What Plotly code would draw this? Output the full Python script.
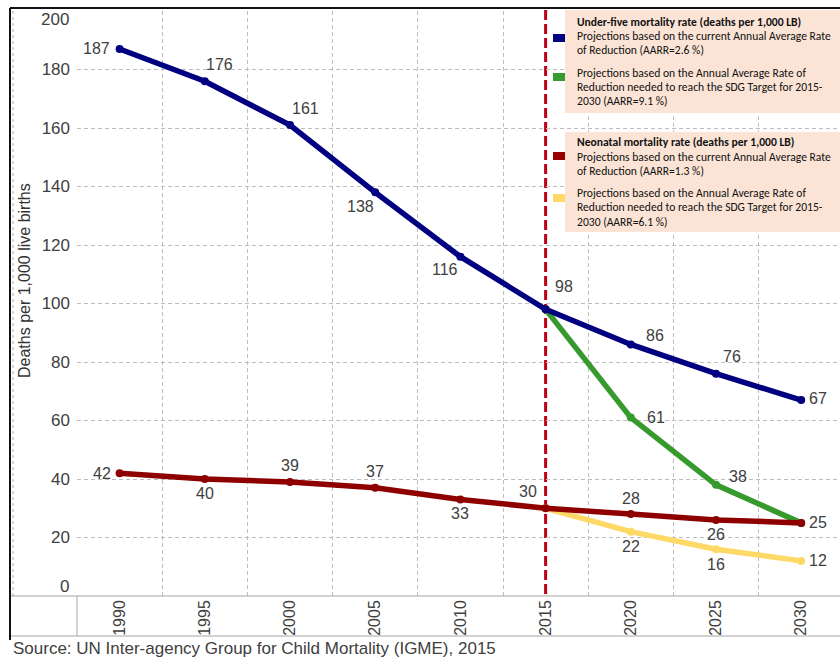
import plotly.graph_objects as go

# ---- data -------------------------------------------------------------
years = ["1990", "1995", "2000", "2005", "2010", "2015", "2020", "2025", "2030"]
proj_years = ["2015", "2020", "2025", "2030"]

under5_current = [187, 176, 161, 138, 116, 98, 86, 76, 67]
under5_sdg = [98, 61, 38, 25]
neonatal_current = [42, 40, 39, 37, 33, 30, 28, 26, 25]
neonatal_sdg = [30, 22, 16, 12]

y_ticks = [0, 20, 40, 60, 80, 100, 120, 140, 160, 180, 200]

legend_under5_title = "Under-five mortality rate (deaths per 1,000 LB)"
legend_under5_current = ["Projections based on the current Annual Average Rate",
                         "of Reduction (AARR=2.6 %)"]
legend_under5_sdg = ["Projections based on the Annual Average Rate of",
                     "Reduction needed to reach the SDG Target for 2015-",
                     "2030 (AARR=9.1 %)"]
legend_neo_title = "Neonatal mortality rate (deaths per 1,000 LB)"
legend_neo_current = ["Projections based on the current Annual Average Rate",
                      "of Reduction (AARR=1.3 %)"]
legend_neo_sdg = ["Projections based on the Annual Average Rate of",
                  "Reduction needed to reach the SDG Target for 2015-",
                  "2030 (AARR=6.1 %)"]

y_title = "Deaths per 1,000 live births"
source_text = "Source: UN Inter-agency Group for Child Mortality (IGME), 2015"

# ---- styling ----------------------------------------------------------
NAVY = "#000080"
GREEN = "#379a2c"
DARKRED = "#8e0000"
GOLD = "#ffd966"
PEACH = "#fbe4d6"
TXT = "#404040"
GRID = "#bdbdbd"
AXIS = "#a6a6a6"
FONT = "Liberation Sans, Arial, sans-serif"
LEG_FONT = "Carlito, Liberation Sans Narrow, Lato, sans-serif"

W_FIG, H_FIG = 840, 659
L, R, T, B = 77, 840, 11, 596          # plot area in pixels
PW, PH = R - L, B - T
BAND = 85.2                              # pixel width of one category


def px(x):
    return (x - L) / PW


def py(y):
    return (B - y) / PH


def cat(year):
    # annotations and shapes on a category axis take the category index
    return years.index(year)


fig = go.Figure()


def add_series(xs, ys, color):
    fig.add_trace(go.Scatter(
        x=xs, y=ys, mode="lines+markers",
        line=dict(color=color, width=5.5),
        marker=dict(color=color, size=8),
        hoverinfo="x+y", showlegend=False,
    ))


add_series(proj_years, under5_sdg, GREEN)
add_series(proj_years, neonatal_sdg, GOLD)
add_series(years, under5_current, NAVY)
add_series(years, neonatal_current, DARKRED)

# value labels: (dx, dy) screen offsets of each label from its point
under5_offsets = [(-23, -1), (15, -17), (15, -17), (-15, 14), (-15, 13),
                  (18, -23), (24, -9), (16, -17), (17, -2)]
under5_sdg_offsets = [None, (25, 0), (22, -8), None]
neo_offsets = [(-18, 0), (0, 14), (0, -16), (0, -16), (0, 14),
               (-18, -17), (0, -16), (0, 15), (17, 0)]
neo_sdg_offsets = [None, (0, 15), (0, 15), (17, 0)]

annotations = []


def label_series(xs, ys, offsets):
    for x, y, off in zip(xs, ys, offsets):
        if off is None:
            continue
        annotations.append(dict(
            x=cat(x), y=y, xref="x", yref="y", text=str(y), showarrow=False,
            xanchor="center", yanchor="middle",
            xshift=off[0], yshift=-off[1],
            font=dict(family=FONT, size=16, color=TXT),
        ))


label_series(years, under5_current, under5_offsets)
label_series(proj_years, under5_sdg, under5_sdg_offsets)
label_series(years, neonatal_current, neo_offsets)
label_series(proj_years, neonatal_sdg, neo_sdg_offsets)

# end tick labels sit just inside the plot edges
for val, shift in [(y_ticks[0], 10), (y_ticks[-1], -8)]:
    annotations.append(dict(
        x=0, y=val, xref="paper", yref="y", text=str(val), showarrow=False,
        xanchor="right", yanchor="middle", xshift=-6, yshift=shift,
        font=dict(family=FONT, size=17, color=TXT),
    ))

# y axis title
annotations.append(dict(
    x=px(24), y=py(281), xref="paper", yref="paper", text=y_title,
    textangle=-90, showarrow=False, xanchor="center", yanchor="middle",
    font=dict(family=FONT, size=16, color="#333333"),
))

# source note
annotations.append(dict(
    x=px(11), y=py(648), xref="paper", yref="paper", text=source_text,
    showarrow=False, xanchor="left", yanchor="middle",
    font=dict(family=FONT, size=17, color=TXT),
))

# legend text blocks
TX = 575


def legend_lines(lines, ys, bold=False):
    for line, yy in zip(lines, ys):
        annotations.append(dict(
            x=px(TX), y=py(yy), xref="paper", yref="paper",
            text=f"<b>{line}</b>" if bold else line,
            showarrow=False, xanchor="left", yanchor="middle",
            font=dict(family=LEG_FONT, size=11.6, color="#111111"),
        ))


legend_lines([legend_under5_title], [22], bold=True)
legend_lines(legend_under5_current, [36, 50])
legend_lines(legend_under5_sdg, [73, 87, 101])
legend_lines([legend_neo_title], [142], bold=True)
legend_lines(legend_neo_current, [157, 171])
legend_lines(legend_neo_sdg, [193, 207, 222])

shapes = []

# legend panels
for y0, y1 in [(10, 113), (132, 232)]:
    shapes.append(dict(type="rect", xref="paper", yref="paper",
                       x0=px(565), x1=px(845), y0=py(y1), y1=py(y0),
                       fillcolor=PEACH, line=dict(width=0), layer="above"))

# legend swatches
for color, yc in [(NAVY, 38), (GREEN, 77), ("#990000", 156), (GOLD, 198)]:
    shapes.append(dict(type="rect", xref="paper", yref="paper",
                       x0=px(553), x1=px(565), y0=py(yc + 4), y1=py(yc - 4),
                       fillcolor=color, line=dict(width=0), layer="above"))

# 2015 divider
shapes.append(dict(type="line", xref="x", yref="paper",
                   x0=cat("2015"), x1=cat("2015"),
                   y0=py(594), y1=py(8),
                   line=dict(color="#c00018", width=3, dash="10px,4px"),
                   layer="below"))

# axis frame around the tick-label strip
shapes.append(dict(type="line", xref="paper", yref="paper",
                   x0=px(10), x1=1, y0=0, y1=0,
                   line=dict(color=AXIS, width=1)))
shapes.append(dict(type="line", xref="paper", yref="paper",
                   x0=px(10), x1=1, y0=py(636), y1=py(636),
                   line=dict(color=AXIS, width=1)))
shapes.append(dict(type="line", xref="paper", yref="paper",
                   x0=0, x1=0, y0=py(636), y1=0,
                   line=dict(color=AXIS, width=1)))
shapes.append(dict(type="line", xref="paper", yref="paper",
                   x0=px(13), x1=px(13), y0=0, y1=py(9),
                   line=dict(color="#b0b0b0", width=1, dash="dot")))

# outer black border
shapes.append(dict(type="line", xref="paper", yref="paper",
                   x0=px(10), x1=px(10), y0=py(640), y1=py(8),
                   line=dict(color="#111111", width=2)))
shapes.append(dict(type="line", xref="paper", yref="paper",
                   x0=px(10), x1=px(842), y0=py(8), y1=py(8),
                   line=dict(color="#111111", width=2)))

fig.update_layout(
    width=W_FIG, height=H_FIG,
    margin=dict(l=L, r=W_FIG - R, t=T, b=H_FIG - B, pad=0),
    paper_bgcolor="white", plot_bgcolor="white",
    showlegend=False,
    annotations=annotations,
    shapes=shapes,
    xaxis=dict(
        type="category", categoryorder="array", categoryarray=years,
        range=[-0.5, -0.5 + PW / BAND],
        tickson="boundaries", ticks="", tickangle=-90,
        tickfont=dict(family=FONT, size=16, color=TXT),
        showgrid=True, gridcolor=GRID, griddash="4px,3px", gridwidth=1,
        showline=False, zeroline=False, fixedrange=True,
    ),
    yaxis=dict(
        range=[0, 200], tickvals=y_ticks[1:-1],
        tickfont=dict(family=FONT, size=17, color=TXT),
        ticks="", ticklabelstandoff=6,
        showgrid=True, gridcolor=GRID, griddash="4px,3px", gridwidth=1,
        showline=False, zeroline=False, fixedrange=True,
    ),
)

fig.write_html("out.html")
